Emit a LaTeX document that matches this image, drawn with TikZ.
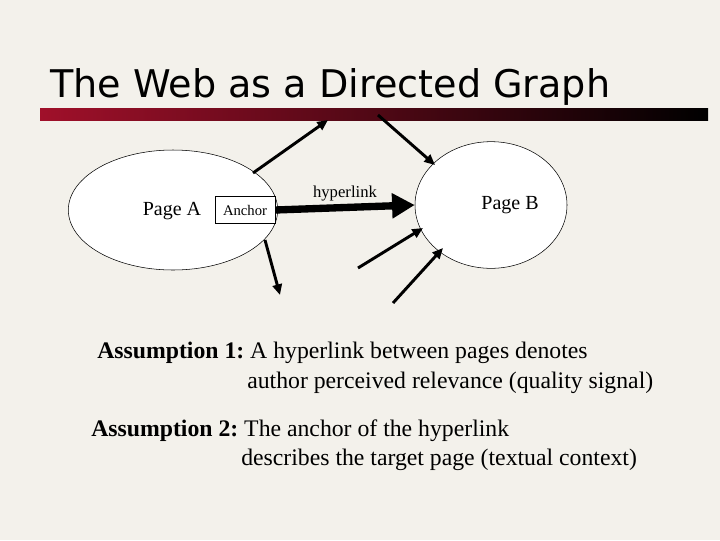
\documentclass[tikz,border=0pt]{standalone}
\usepackage{fontspec}
\setmainfont{Liberation Serif}
\newfontfamily\titlefont{DejaVu Sans}
\usetikzlibrary{shapes.geometric,arrows.meta}
\definecolor{bg}{HTML}{F3F1EB}
\definecolor{barred}{HTML}{A0102A}
\frenchspacing
\begin{document}
\begin{tikzpicture}[x=0.75pt,y=-0.75pt,
  page/.style={ellipse,draw,fill=white,inner sep=0pt},
  link/.style={-{Triangle[length=8pt,width=7pt]},line width=2.2pt},
  txt/.style={font=\fontsize{17.8}{20}\selectfont,anchor=base west,inner sep=0pt}]
\fill[bg] (0,0) rectangle (720,540);
\useasboundingbox (0,0) rectangle (720,540);
\node[anchor=base west,inner sep=0pt,font=\titlefont\fontsize{28.6}{32}\selectfont] (title) at (50,97) {The Web as a Directed Graph};
\shade[left color=barred,right color=black] (40,108) rectangle (708,120);
\node[page,minimum width=157pt,minimum height=90pt] (A) at (173,210) {};
\node[page,minimum width=114pt,minimum height=95pt] (B) at (491,205) {};
\node[font=\fontsize{15}{17}\selectfont] (pa) at (172,211) {Page A};
\node[font=\fontsize{15}{17}\selectfont] (pb) at (510,205) {Page B};
\node[draw,fill=white,minimum width=45pt,minimum height=20pt,inner sep=0pt,font=\fontsize{11}{13}\selectfont] (anc) at (245,210) {Anchor};
\node[font=\fontsize{12.5}{14}\selectfont] (hl) at (345,194) {hyperlink};
\draw[line width=5.5pt,-{Triangle[length=17pt,width=18pt]}] (anc.east) -- (B.west);
\coordinate (a1) at (253,173); \coordinate (a2) at (328,120);
\coordinate (b1) at (378,115); \coordinate (b2) at (435,165);
\coordinate (c1) at (265,240); \coordinate (c2) at (280,295);
\coordinate (d1) at (358,268); \coordinate (d2) at (423,228);
\coordinate (e1) at (393,303); \coordinate (e2) at (443,248);
\draw[link] (a1) -- (a2);
\draw[link] (b1) -- (b2);
\draw[link] (c1) -- (c2);
\draw[link] (d1) -- (d2);
\draw[link] (e1) -- (e2);
\node[txt] (t1) at (97,358) {\textbf{Assumption 1:} A hyperlink between pages denotes};
\node[txt] (t2) at (247,388) {author perceived relevance (quality signal)};
\node[txt] (t3) at (91,436) {\textbf{Assumption 2:} The anchor of the hyperlink};
\node[txt] (t4) at (241,465) {describes the target page (textual context)};
\end{tikzpicture}
\end{document}
